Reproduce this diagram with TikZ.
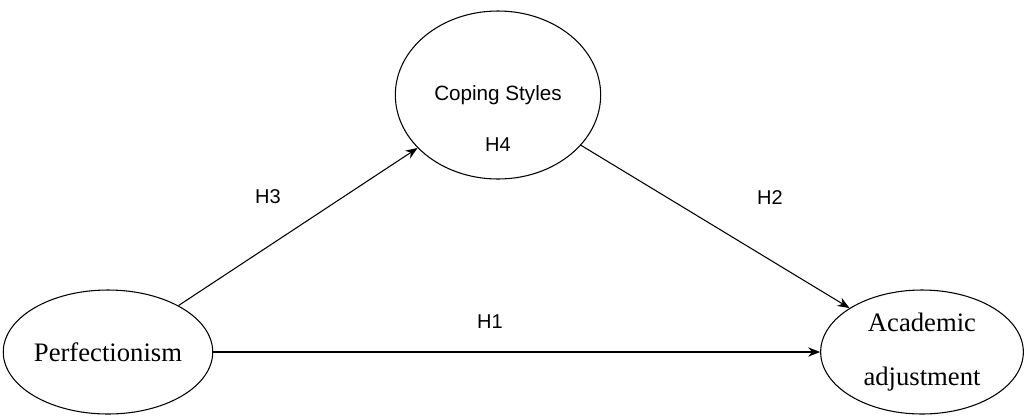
\documentclass[tikz,border=0pt]{standalone}
\usepackage{fontspec}
\setmainfont{Liberation Serif}
\setsansfont{Liberation Sans}
\usetikzlibrary{shapes.geometric,arrows.meta}

\tikzset{
  construct/.style={draw, ellipse, line width=0.8pt, inner sep=0pt,
    font=\fontsize{20}{24}\selectfont, align=center},
  hyp/.style={font=\sffamily\fontsize{15}{18}\selectfont},
  link/.style={line width=0.8pt, -{Stealth[length=9pt,width=7pt]}}
}

\begin{document}
\begin{tikzpicture}[x=0.75pt, y=-0.75pt]
\useasboundingbox (0,0) rectangle (1028,415);

\node[construct, minimum width=154pt, minimum height=126pt,
      font=\sffamily\fontsize{15.5}{18}\selectfont] (coping) at (498,95) {Coping Styles};
\node[hyp] (h4) at (498,145) {H4};
\node[construct, minimum width=154.5pt, minimum height=93pt] (perf) at (108,352) {Perfectionism};
\node[construct, minimum width=152pt, minimum height=93pt] (acad) at (922,352) {Academic\\[16pt]adjustment};

\draw[link] (perf) -- (coping);
\draw[link] (coping) -- (acad);
\draw[link] (perf) -- (acad);

\node[hyp] (h3) at (268,197) {H3};
\node[hyp] (h2) at (770,198) {H2};
\node[hyp] (h1) at (490,322) {H1};
\end{tikzpicture}
\end{document}
